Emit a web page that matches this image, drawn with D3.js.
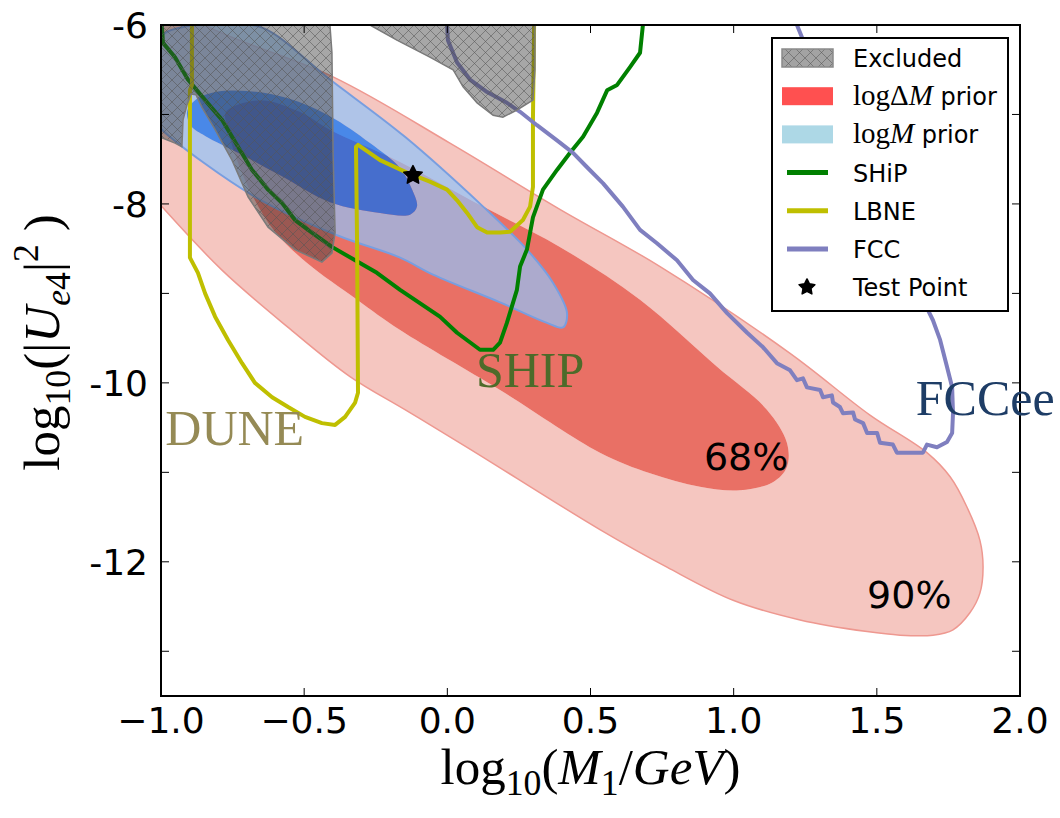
<!DOCTYPE html>
<meta charset="utf-8">
<head>
<title>Heavy neutrino posterior</title>
<script src="https://d3js.org/d3.v7.min.js"></script>
</head>
<style>
body { margin: 0; background: #fff; }
text { font-family: "DejaVu Sans", sans-serif; }
</style>
<body>
<svg id="chart" width="1060" height="818"></svg>
<script>
// axis ranges and ticks
var xDomain = [-1, 2];
var yDomain = [-13.5, -6];
var xTicks = [-1, -0.5, 0, 0.5, 1, 1.5, 2];
var xTickLabels = ["\u22121.0", "\u22120.5", "0.0", "0.5", "1.0", "1.5", "2.0"];
var yTicks = [-13, -12, -11, -10, -9, -8, -7, -6];
var yLabelTicks = [-12, -10, -8, -6];

// credible regions, log10(M1/GeV) vs log10|U|^2
var red90 = [[-1.108,-5.50],[-0.829,-6.03],[-0.399,-6.58],[0.009,-7.32],[0.393,-8.06],[0.743,-8.70],
  [1.197,-9.67],[1.476,-10.36],[1.675,-10.78],[1.756,-11.05],[1.815,-11.39],[1.860,-11.76],[1.871,-12.06],
  [1.860,-12.35],[1.825,-12.57],[1.766,-12.76],[1.696,-12.82],[1.581,-12.82],[1.466,-12.78],[1.232,-12.65],
  [0.998,-12.43],[0.767,-12.06],[0.533,-11.64],[0.069,-10.72],[-0.148,-10.30],[-0.340,-9.93],[-0.556,-9.38],
  [-0.787,-8.74],[-0.997,-8.03],[-1.108,-7.62]];
var red68 = [[-0.773,-6.97],[-0.654,-6.84],[-0.515,-6.97],[-0.410,-7.17],[-0.165,-7.53],[0.125,-8.03],
  [0.393,-8.48],[0.673,-9.07],[0.942,-9.82],[1.116,-10.30],[1.186,-10.67],[1.186,-10.94],[1.137,-11.11],
  [1.022,-11.20],[0.882,-11.16],[0.708,-11.01],[0.533,-10.78],[0.184,-10.08],[-0.165,-9.41],[-0.315,-9.07],
  [-0.490,-8.66],[-0.602,-8.31],[-0.682,-7.90],[-0.735,-7.51],[-0.766,-7.17]];
var blue90 = [[-1.021,-6.39],[-0.993,-6.11],[-0.934,-6.03],[-0.794,-5.99],[-0.647,-6.03],[-0.410,-6.61],
  [-0.148,-7.25],[0.125,-8.03],[0.278,-8.51],[0.369,-8.88],[0.418,-9.22],[0.404,-9.38],[0.348,-9.33],
  [0.184,-9.10],[-0.050,-8.79],[-0.165,-8.60],[-0.385,-8.35],[-0.672,-7.92],[-0.997,-7.17],[-1.038,-7.01]];
var blue68 = [[-0.909,-6.97],[-0.881,-6.84],[-0.811,-6.75],[-0.689,-6.74],[-0.556,-6.82],[-0.410,-7.02],
  [-0.270,-7.32],[-0.165,-7.60],[-0.123,-7.84],[-0.106,-8.03],[-0.130,-8.12],[-0.235,-8.10],[-0.410,-7.98],
  [-0.584,-7.68],[-0.724,-7.44],[-0.846,-7.24],[-0.895,-7.13]];

// excluded regions
var excludedA = [[-1,-6],[-0.410,-6],[-0.403,-6.31],[-0.399,-7.43],[-0.392,-8.32],[-0.403,-8.55],[-0.438,-8.65],
  [-0.532,-8.51],[-0.626,-8.26],[-0.696,-7.92],[-0.752,-7.51],[-0.811,-7.17],[-0.857,-6.92],[-0.878,-6.78],
  [-0.895,-6.77],[-0.909,-6.89],[-0.923,-7.06],[-0.927,-7.36],[-0.951,-7.32],[-0.997,-7.26],[-1,-7.26]];
var excludedB = [[-0.270,-6],[-0.176,-6.17],[-0.061,-6.36],[0.020,-6.50],[0.055,-6.69],[0.104,-6.87],
  [0.160,-7.01],[0.194,-7.03],[0.243,-6.95],[0.299,-6.84],[0.306,-6.50],[0.306,-6]];

// experiment sensitivities
var ship = [[-0.997,-6.01],[-0.993,-6.20],[-0.951,-6.36],[-0.906,-6.61],[-0.846,-6.84],[-0.787,-7.06],
  [-0.731,-7.36],[-0.682,-7.62],[-0.626,-7.84],[-0.577,-7.99],[-0.532,-8.18],[-0.473,-8.32],[-0.403,-8.48],
  [-0.322,-8.63],[-0.246,-8.77],[-0.165,-8.96],[-0.026,-9.26],[0.034,-9.44],[0.114,-9.63],[0.160,-9.63],
  [0.184,-9.55],[0.208,-9.33],[0.243,-8.96],[0.254,-8.70],[0.278,-8.51],[0.299,-8.15],[0.334,-7.84],
  [0.383,-7.62],[0.428,-7.43],[0.474,-7.25],[0.523,-6.98],[0.558,-6.73],[0.593,-6.67],[0.638,-6.47],
  [0.673,-6.31],[0.683,-6.00]];
var lbne = [[-0.892,-6.00],[-0.892,-6.67],[-0.899,-6.73],[-0.899,-8.60],[-0.871,-8.77],[-0.846,-9.00],
  [-0.811,-9.26],[-0.766,-9.52],[-0.717,-9.78],[-0.672,-10.00],[-0.612,-10.16],[-0.556,-10.27],[-0.497,-10.38],
  [-0.438,-10.45],[-0.392,-10.47],[-0.357,-10.38],[-0.322,-10.22],[-0.312,-10.11],[-0.315,-8.51],[-0.319,-7.36],
  [-0.312,-7.34],[-0.235,-7.51],[-0.141,-7.65],[-0.061,-7.75],[-0.001,-7.84],[0.034,-7.96],[0.069,-8.10],
  [0.104,-8.26],[0.139,-8.32],[0.184,-8.32],[0.219,-8.31],[0.264,-8.18],[0.289,-8.03],[0.299,-7.81],
  [0.299,-7.06],[0.303,-6.00]];
var fcc = [[-0.001,-6.00],[0.002,-6.17],[0.034,-6.42],[0.079,-6.61],[0.139,-6.75],[0.208,-6.87],[0.254,-6.97],
  [0.313,-7.12],[0.383,-7.29],[0.439,-7.43],[0.488,-7.59],[0.544,-7.77],[0.613,-8.03],[0.673,-8.29],
  [0.732,-8.44],[0.802,-8.63],[0.858,-8.85],[0.917,-9.00],[0.977,-9.22],[1.047,-9.44],[1.102,-9.60],
  [1.151,-9.78],[1.197,-9.86],[1.221,-9.97],[1.242,-9.95],[1.256,-10.05],[1.302,-10.08],[1.312,-10.16],
  [1.343,-10.14],[1.347,-10.22],[1.371,-10.27],[1.382,-10.34],[1.417,-10.33],[1.424,-10.41],[1.452,-10.45],
  [1.466,-10.56],[1.501,-10.56],[1.511,-10.67],[1.556,-10.69],[1.570,-10.78],[1.661,-10.78],[1.675,-10.69],
  [1.710,-10.72],[1.745,-10.66],[1.763,-10.56],[1.766,-10.34],[1.763,-10.05],[1.745,-9.82],[1.721,-9.52],
  [1.696,-9.30],[1.679,-9.19],[1.598,-8.51],[1.476,-7.73],[1.336,-6.84],[1.249,-6.22],[1.221,-6.00]];

var testPoint = [-0.12, -7.68];

// annotations: text, x, y (data units), colour, font
var annotations = [
  ["DUNE", -0.985, -10.69, "#958a55", "serif"],
  ["SHIP", 0.100, -10.05, "#4d6b2a", "serif"],
  ["FCCee", 1.636, -10.36, "#1e3d66", "serif"],
  ["68%", 0.896, -10.97, "#000", "sans"],
  ["90%", 1.466, -12.52, "#000", "sans"]
];

var legendItems = [
  {type: "hatch", label: [{t: "Excluded", sans: true}]},
  {type: "patch", color: "#ff5050", label: [{t: "log"}, {t: "\u0394"}, {t: "M", it: true}, {t: " prior", sans: true}]},
  {type: "patch", color: "#add8e6", label: [{t: "log"}, {t: "M", it: true}, {t: " prior", sans: true}]},
  {type: "line", color: "#008000", label: [{t: "SHiP", sans: true}]},
  {type: "line", color: "#bfbf00", label: [{t: "LBNE", sans: true}]},
  {type: "line", color: "#7f7fbf", label: [{t: "FCC", sans: true}]},
  {type: "star", label: [{t: "Test Point", sans: true}]}
];

var margin = {top: 25, right: 40, bottom: 122, left: 161};
var svg = d3.select("#chart");
var W = +svg.attr("width") - margin.left - margin.right,
    H = +svg.attr("height") - margin.top - margin.bottom;
var x = d3.scaleLinear().domain(xDomain).range([0, W]);
var y = d3.scaleLinear().domain(yDomain).range([H, 0]);

// matplotlib-like fat five point star
var fatStar = {
  draw: function(context, size) {
    var r = Math.sqrt(size / 1.6), ri = r * 0.5;
    for (var i = 0; i < 10; i++) {
      var a = -Math.PI / 2 + i * Math.PI / 5, rr = i % 2 ? ri : r;
      if (i === 0) context.moveTo(rr * Math.cos(a), rr * Math.sin(a));
      else context.lineTo(rr * Math.cos(a), rr * Math.sin(a));
    }
    context.closePath();
  }
};

var defs = svg.append("defs");
defs.append("clipPath").attr("id", "clip").append("rect").attr("width", W).attr("height", H);
var hatch = defs.append("pattern").attr("id", "hatch").attr("patternUnits", "userSpaceOnUse")
    .attr("width", 11).attr("height", 11);
hatch.append("path").attr("d", "M0,0L11,11M11,0L0,11M-1,10L1,12M10,-1L12,1M-1,1L1,-1M10,12L12,10")
    .attr("stroke", "#555").attr("stroke-opacity", 0.55).attr("stroke-width", 1);

var g = svg.append("g").attr("transform", "translate(" + margin.left + "," + margin.top + ")");
var plot = g.append("g").attr("clip-path", "url(#clip)");

var smooth = d3.line().x(function(d) { return x(d[0]); }).y(function(d) { return y(d[1]); })
    .curve(d3.curveCatmullRomClosed.alpha(0.5));
var poly = d3.line().x(function(d) { return x(d[0]); }).y(function(d) { return y(d[1]); });

// red prior: outer band then inner region
plot.append("path").attr("d", smooth(red90) + smooth(red68)).attr("fill-rule", "evenodd")
    .attr("fill", "rgb(241,174,165)").attr("fill-opacity", 0.7);
plot.append("path").attr("d", smooth(red68)).attr("fill", "rgb(224,51,36)").attr("fill-opacity", 0.7);
plot.append("path").attr("d", smooth(red90)).attr("fill", "none")
    .attr("stroke", "#ee9890").attr("stroke-width", 1.5);

// blue prior
plot.append("path").attr("d", smooth(blue90) + smooth(blue68)).attr("fill-rule", "evenodd")
    .attr("fill", "rgb(146,195,249)").attr("fill-opacity", 0.7);
plot.append("path").attr("d", smooth(blue68)).attr("fill", "rgb(0,109,249)").attr("fill-opacity", 0.7);
plot.append("path").attr("d", smooth(blue90)).attr("fill", "none")
    .attr("stroke", "#789ee0").attr("stroke-width", 2);

// sensitivity curves
[[ship, "#008000"], [lbne, "#bfbf00"], [fcc, "#7f7fbf"]].forEach(function(c) {
  plot.append("path").attr("d", poly(c[0])).attr("fill", "none").attr("stroke", c[1])
      .attr("stroke-width", 4).attr("stroke-linejoin", "round").attr("stroke-linecap", "round");
});

// frame and ticks
g.append("rect").attr("width", W).attr("height", H).attr("fill", "none")
    .attr("stroke", "#000").attr("stroke-width", 2);
xTicks.forEach(function(t) {
  g.append("line").attr("x1", x(t)).attr("x2", x(t)).attr("y1", H).attr("y2", H - 8).attr("stroke", "#000");
  g.append("line").attr("x1", x(t)).attr("x2", x(t)).attr("y1", 0).attr("y2", 8).attr("stroke", "#000");
});
yTicks.forEach(function(t) {
  g.append("line").attr("y1", y(t)).attr("y2", y(t)).attr("x1", 0).attr("x2", 8).attr("stroke", "#000");
  g.append("line").attr("y1", y(t)).attr("y2", y(t)).attr("x1", W).attr("x2", W - 8).attr("stroke", "#000");
});

// excluded regions on top
[excludedA, excludedB].forEach(function(r) {
  plot.append("path").attr("d", poly(r) + "Z").attr("fill", "rgb(60,60,60)").attr("fill-opacity", 0.45);
  plot.append("path").attr("d", poly(r) + "Z").attr("fill", "url(#hatch)")
      .attr("stroke", "#7a7a7a").attr("stroke-width", 1.5);
});

// test point
g.append("path").attr("d", d3.symbol(fatStar).size(150)())
    .attr("transform", "translate(" + x(testPoint[0]) + "," + y(testPoint[1]) + ")").attr("fill", "#000")
    .attr("stroke", "#000").attr("stroke-width", 1.5).attr("stroke-linejoin", "round");

// tick labels
xTicks.forEach(function(t, i) {
  g.append("text").attr("x", x(t)).attr("y", H + 37).attr("text-anchor", "middle")
      .style("font-size", "36px").text(xTickLabels[i]);
});
yLabelTicks.forEach(function(t) {
  g.append("text").attr("x", -13).attr("y", y(t)).attr("dy", "0.36em").attr("text-anchor", "end")
      .style("font-size", "36px").text(String(t));
});

// math-style text helper
function mathText(sel, parts, size, sansSize) {
  var shift = 0;
  parts.forEach(function(p) {
    var target = p.sub ? size * 0.22 : p.sup ? -size * 0.42 : 0;
    var fs = p.sans && sansSize ? sansSize : size;
    var ts = sel.append("tspan").attr("dy", target - shift)
        .style("font-size", ((p.sub || p.sup) ? fs * 0.7 : fs) + "px")
        .style("font-style", p.it ? "italic" : "normal")
        .text(p.t);
    if (p.sans) ts.style("font-family", "'DejaVu Sans', sans-serif");
    else ts.style("font-family", "'Liberation Serif', serif");
    shift = target;
  });
}

var xl = g.append("text").attr("x", W / 2).attr("y", H + 88).attr("text-anchor", "middle");
mathText(xl, [{t: "log"}, {t: "10", sub: true}, {t: "("}, {t: "M", it: true}, {t: "1", sub: true},
  {t: "/"}, {t: "GeV", it: true}, {t: ")"}], 51);
var yl = g.append("text").attr("transform", "translate(-102," + (H / 2 - 18) + ") rotate(-90)")
    .attr("text-anchor", "middle");
mathText(yl, [{t: "log"}, {t: "10", sub: true}, {t: "(|"}, {t: "U", it: true}, {t: "e", it: true, sub: true},
  {t: "4", sub: true}, {t: "|"}, {t: "2", sup: true}, {t: " )"}], 51);

// annotations
annotations.forEach(function(a) {
  g.append("text").attr("x", x(a[1])).attr("y", y(a[2])).attr("fill", a[3])
      .style("font-family", a[4] === "serif" ? "'Liberation Serif', serif" : "'DejaVu Sans', sans-serif")
      .style("font-size", a[4] === "serif" ? "50px" : "38px").text(a[0]);
});

// legend
var lg = g.append("g").attr("transform", "translate(" + (772 - margin.left) + "," + (38 - margin.top) + ")");
lg.append("rect").attr("width", 236).attr("height", 273).attr("fill", "#fff")
    .attr("stroke", "#000").attr("stroke-width", 2);
legendItems.forEach(function(d, i) {
  var cy = 20 + i * 38.2;
  var row = lg.append("g").attr("transform", "translate(0," + cy + ")");
  if (d.type === "hatch") {
    row.append("rect").attr("x", 10).attr("y", -9).attr("width", 51).attr("height", 18).attr("fill", "#a3a3a3");
    row.append("rect").attr("x", 10).attr("y", -9).attr("width", 51).attr("height", 18)
        .attr("fill", "url(#hatch)").attr("stroke", "#8a8a8a").attr("stroke-width", 1.5);
  } else if (d.type === "patch") {
    row.append("rect").attr("x", 10).attr("y", -9).attr("width", 51).attr("height", 18).attr("fill", d.color);
  } else if (d.type === "line") {
    row.append("line").attr("x1", 15).attr("x2", 56).attr("stroke", d.color).attr("stroke-width", 5);
  } else {
    row.append("path").attr("d", d3.symbol(fatStar).size(110)())
        .attr("transform", "translate(35,0)").attr("fill", "#000")
        .attr("stroke", "#000").attr("stroke-width", 1.5).attr("stroke-linejoin", "round");
  }
  var t = row.append("text").attr("x", 81).attr("y", 9);
  mathText(t, d.label, 29, 24);
});
</script>
</body>
